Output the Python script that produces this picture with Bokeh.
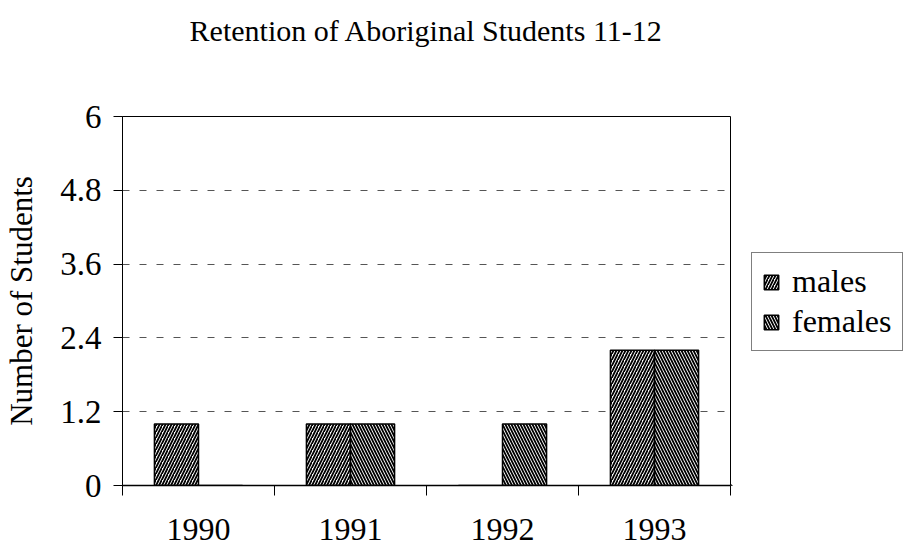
from bokeh.plotting import figure
from bokeh.models import Range1d, FixedTicker, ColumnDataSource, Legend, LegendItem, LinearAxis
from bokeh.layouts import row
from bokeh.embed import file_html
from bokeh.resources import INLINE

years = ["1990", "1991", "1992", "1993"]
males = [1, 1, 0, 2.2]
females = [0, 1, 1, 2.2]
y_ticks = [0, 1.2, 2.4, 3.6, 4.8, 6]
y_tick_labels = ["0", "1.2", "2.4", "3.6", "4.8", "6"]
series_names = ["males", "females"]
title_text = "Retention of Aboriginal Students 11-12"
y_label = "Number of Students"

FONT = "Liberation Serif"
bar_w = 0.29
centers = [i + 0.5 for i in range(len(years))]
bounds = [float(i) for i in range(len(years) + 1)]

src = ColumnDataSource(dict(
    x_m=[c - bar_w / 2 for c in centers],
    x_f=[c + bar_w / 2 for c in centers],
    males=males,
    females=females,
))

p = figure(width=731, height=549, output_backend="svg", toolbar_location=None,
           x_range=Range1d(0, len(years)), y_range=Range1d(0, 6),
           min_border_left=122, min_border_right=1, min_border_top=116,
           min_border_bottom=64)

# title drawn as the label of a tick-less axis above the frame
tax = LinearAxis(axis_label=title_text, ticker=FixedTicker(ticks=[], minor_ticks=[]),
                 axis_line_color=None, major_tick_line_color=None,
                 minor_tick_line_color=None, axis_label_standoff=70,
                 axis_label_text_font=FONT, axis_label_text_font_size="30px",
                 axis_label_text_font_style="normal", axis_label_text_color="black")
p.add_layout(tax, "above")

p.outline_line_color = "black"
p.outline_line_width = 1
p.xgrid.visible = False
p.ygrid.grid_line_dash = "7 10"
p.ygrid.grid_line_color = "#555555"
p.ygrid.grid_line_width = 1

xa = p.below[0]
xa.ticker = FixedTicker(ticks=centers, minor_ticks=bounds)
xa.major_label_overrides = {c: y for c, y in zip(centers, years)}
xa.major_tick_line_color = None
xa.minor_tick_in = 0
xa.minor_tick_out = 10
xa.minor_tick_line_color = "black"
xa.axis_line_color = "black"
xa.axis_line_width = 1.5
xa.major_label_text_font = FONT
xa.major_label_text_font_size = "32px"
xa.major_label_text_color = "black"
xa.major_label_standoff = 23

ya = p.left[0]
ya.ticker = FixedTicker(ticks=y_ticks, minor_ticks=[])
ya.major_label_overrides = {t: l for t, l in zip(y_ticks, y_tick_labels)}
ya.major_tick_in = 0
ya.major_tick_out = 9
ya.minor_tick_line_color = None
ya.axis_line_color = "black"
ya.major_label_text_font = FONT
ya.major_label_text_font_size = "33px"
ya.major_label_text_color = "black"
ya.major_label_standoff = 12
ya.axis_label = y_label
ya.axis_label_text_font = FONT
ya.axis_label_text_font_size = "31px"
ya.axis_label_text_font_style = "normal"
ya.axis_label_text_color = "black"
ya.axis_label_standoff = 18

style = dict(fill_color="white", line_color="black", line_width=1.5,
             hatch_color="black", hatch_scale=6, hatch_weight=1.8)
p.vbar(x="x_m", top="males", width=bar_w, source=src, hatch_pattern="/", **style)
p.vbar(x="x_f", top="females", width=bar_w, source=src, hatch_pattern="\\", **style)

# legend panel to the right of the plot (its bars lie outside its view)
lp = figure(width=172, height=549, output_backend="svg", toolbar_location=None,
            x_range=Range1d(100, 101), y_range=Range1d(100, 101),
            x_axis_location=None, y_axis_location=None, min_border=0)
lp.grid.visible = False
lp.outline_line_color = None
lm = lp.vbar(x="x_m", top="males", width=bar_w, source=src, hatch_pattern="/", **style)
lf = lp.vbar(x="x_f", top="females", width=bar_w, source=src, hatch_pattern="\\", **style)

legend = Legend(items=[LegendItem(label=series_names[0], renderers=[lm]),
                       LegendItem(label=series_names[1], renderers=[lf])],
                location=(20, 134))
legend.label_text_font = FONT
legend.label_text_font_size = "32px"
legend.label_text_color = "black"
legend.glyph_width = 18
legend.glyph_height = 18
legend.label_standoff = 12
legend.padding = 10
legend.spacing = 3
legend.margin = 0
legend.border_line_color = "black"
legend.border_line_width = 1.5
legend.background_fill_alpha = 1
lp.add_layout(legend)

layout = row(p, lp)
open("out.html", "w").write(file_html(layout, INLINE))
